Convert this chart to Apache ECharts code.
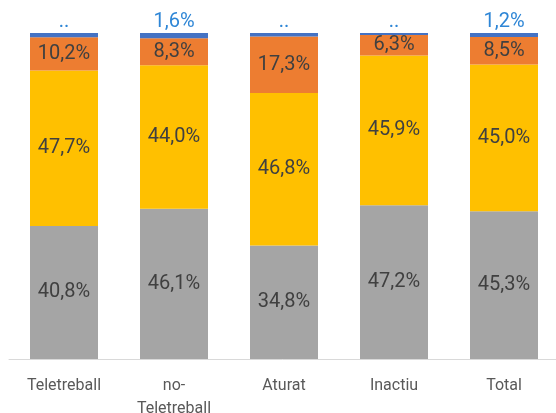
<!DOCTYPE html>
<html>
<head>
<meta charset="utf-8">
<script src="https://cdn.jsdelivr.net/npm/echarts@6/dist/echarts.min.js"></script>
<style>
  html, body { margin: 0; padding: 0; background: #fff; }
  #chart { width: 556px; height: 413px; }
</style>
</head>
<body>
<div id="chart"></div>
<script>
// Categories along the x axis
const categories = ['Teletreball', 'no-\nTeletreball', 'Aturat', 'Inactiu', 'Total'];

// Share of each group (%), stacked bottom to top
const grayValues   = [40.8, 46.1, 34.8, 47.2, 45.3];
const yellowValues = [47.7, 44.0, 46.8, 45.9, 45.0];
const orangeValues = [10.2, 8.3, 17.3, 6.3, 8.5];
const blueValues   = [1.3, 1.6, 1.1, 0.6, 1.2];
// Top labels: ".." where the value is not published
const blueLabels   = ['..', '1,6%', '..', '..', '1,2%'];

const fmt = v => v.toFixed(1).replace('.', ',') + '%';

const chart = echarts.init(document.getElementById('chart'));

const insideLabel = {
  show: true,
  position: 'inside',
  color: '#404040',
  fontSize: 20,
  fontFamily: 'Roboto',
  formatter: p => fmt(p.value)
};

function segment(name, data, color, label) {
  return {
    name: name,
    type: 'bar',
    stack: 'total',
    barWidth: 68,
    data: data,
    itemStyle: { color: color },
    label: label,
    emphasis: { disabled: true }
  };
}

chart.setOption({
  animation: false,
  grid: { left: 9, right: -3, top: 33, bottom: 54, containLabel: false, outerBoundsMode: 'none' },
  xAxis: {
    type: 'category',
    data: categories,
    axisLine: { lineStyle: { color: '#d9d9d9', width: 1 } },
    axisTick: { show: false },
    axisLabel: {
      color: '#595959',
      fontSize: 16,
      fontFamily: 'Roboto',
      lineHeight: 23,
      margin: 15,
      interval: 0
    }
  },
  yAxis: {
    type: 'value',
    min: 0,
    max: 100,
    show: false,
    splitLine: { show: false }
  },
  series: [
    segment('Gris', grayValues, '#a5a5a5', insideLabel),
    segment('Groc', yellowValues, '#ffc000', insideLabel),
    segment('Taronja', orangeValues, '#ed7d31', insideLabel),
    segment('Blau', blueValues, '#4472c4', {
      show: true,
      position: 'top',
      distance: 1,
      color: '#2e86d6',
      fontSize: 20,
      fontFamily: 'Roboto',
      formatter: p => blueLabels[p.dataIndex]
    })
  ]
});
</script>
</body>
</html>
